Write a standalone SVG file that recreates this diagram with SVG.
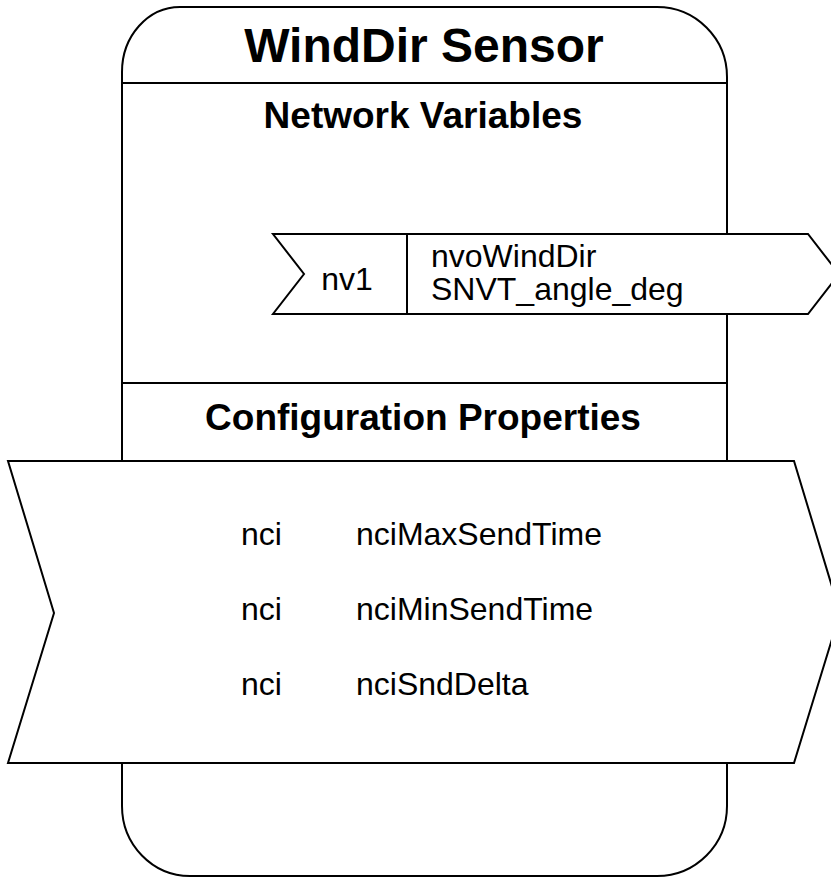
<svg xmlns="http://www.w3.org/2000/svg" width="831" height="877" viewBox="0 0 831 877">
<style>
.ln{fill:#fff;stroke:#000;stroke-width:2}
.b{font-family:"Liberation Sans",Arial,sans-serif;font-weight:bold;fill:#000;text-anchor:middle}
.t{font-family:"Liberation Sans",Arial,sans-serif;fill:#000;font-size:32px}
</style>
<rect width="831" height="877" fill="#fff"/>
<g id="sensor">
<path class="ln" d="M122 72 A58 65 0 0 1 180 7 L657 7 A70 70 0 0 1 727 77 L727 806 A70 70 0 0 1 657 876 L190 876 A68 70 0 0 1 122 806 Z"/>
<line x1="122" y1="83" x2="727" y2="83" stroke="#000" stroke-width="2"/>
<line x1="122" y1="383" x2="727" y2="383" stroke="#000" stroke-width="2"/>
<text class="b" x="424" y="62" font-size="48">WindDir Sensor</text>
<text class="b" x="423" y="128" font-size="37">Network Variables</text>
<text class="b" x="423" y="430" font-size="37">Configuration Properties</text>
</g>
<g id="nv1">
<path class="ln" d="M273 234 L808 234 L839 274 L808 314 L273 314 L304 274 Z"/>
<line x1="407" y1="234" x2="407" y2="314" stroke="#000" stroke-width="2"/>
<text class="t" x="347" y="290" text-anchor="middle">nv1</text>
<text class="t" x="431" y="267">nvoWindDir</text>
<text class="t" x="431" y="300">SNVT_angle_deg</text>
</g>
<g id="config">
<path class="ln" d="M8 461 L794 461 L840 613 L794 763 L8 763 L54 613 Z"/>
<text class="t" x="241" y="545">nci</text>
<text class="t" x="356" y="545">nciMaxSendTime</text>
<text class="t" x="241" y="620">nci</text>
<text class="t" x="356" y="620">nciMinSendTime</text>
<text class="t" x="241" y="695">nci</text>
<text class="t" x="356" y="695">nciSndDelta</text>
</g>
<g id="connectors"></g>
</svg>
